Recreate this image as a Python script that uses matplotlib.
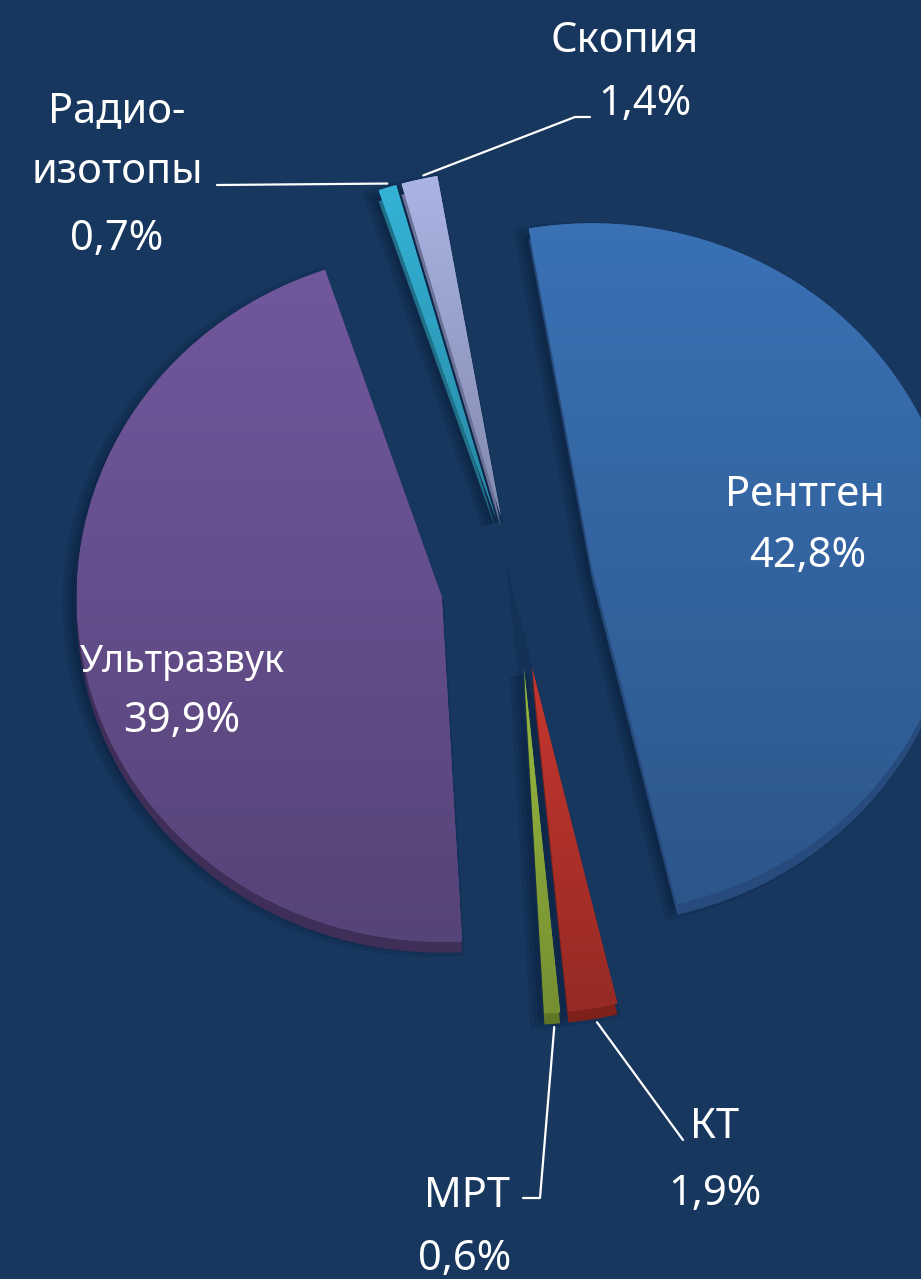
import matplotlib
matplotlib.use('Agg')
import matplotlib.pyplot as plt
import matplotlib.colors as mcolors
import numpy as np

plt.rcParams['font.family'] = ['Noto Sans', 'DejaVu Sans']

# ---- data ----
categories = ['Рентген', 'КТ', 'МРТ', 'Ультразвук', 'Радиоизотопы', 'Скопия']
values = [42.8, 1.9, 0.6, 39.9, 0.7, 1.4]
pct_labels = ['42,8%', '1,9%', '0,6%', '39,9%', '0,7%', '1,4%']

# ---- style ----
BG = '#17375E'
colors = ['#3567A5', '#B3322B', '#8BAA3B', '#67508F', '#2FA2C3', '#9BA4CF']
side_colors = ['#264B7C', '#7E211B', '#5E7626', '#3F2F58', '#1F7088', '#6C7399']
explode = [0.21, 0.25, 0.25, 0.21, 0.20, 0.20]

W, H = 921, 1279
CX, CY = 517, 583      # pie centre (pixels, y down)
RX, RY = 365, 345      # pixel size of one data unit


def P(px, py):
    return ((px - CX) / RX, (CY - py) / RY)


def Pinv(x, y):
    return (CX + x * RX, CY - y * RY)


fig = plt.figure(figsize=(W / 100, H / 100), dpi=100, facecolor=BG)
ax = fig.add_axes([0, 0, 1, 1])
ax.set_facecolor(BG)

start = 100
common = dict(explode=explode, startangle=start, counterclock=False)
# soft dark shadow
for lw, al in ((12, 0.25), (6, 0.35)):
    ax.pie(values, colors=['#0E2545'] * len(values), center=(-6 / RX, -7 / RY),
           wedgeprops=dict(linewidth=lw, edgecolor='#0E2545', alpha=al), **common)
# extruded side
ax.pie(values, colors=side_colors, center=(0, -11 / RY),
       wedgeprops=dict(linewidth=0), **common)
# top faces
wedges, _ = ax.pie(values, colors=colors, wedgeprops=dict(linewidth=0), **common)

# subtle vertical shading on the top faces
for w, c in zip(wedges, colors):
    bb = w.get_path().get_extents()
    rgb = np.array(mcolors.to_rgb(c))
    t = np.linspace(0, 1, 256)[:, None]
    top = np.clip(rgb * 1.10, 0, 1)
    bot = rgb * 0.84
    grad = (top * (1 - t) + bot * t)[:, None, :]
    im = ax.imshow(grad, extent=(bb.x0, bb.x1, bb.y0, bb.y1), origin='upper',
                   aspect='auto', zorder=w.get_zorder() + 0.1, interpolation='bilinear')
    im.set_clip_path(w)

ax.set_aspect('auto')
ax.set_xlim(-CX / RX, (W - CX) / RX)
ax.set_ylim(-(H - CY) / RY, CY / RY)
ax.axis('off')


# outer tip of a wedge (pixel coords)
def tip(w, frac=0.5):
    ang = np.deg2rad(w.theta1 + frac * (w.theta2 - w.theta1))
    x = w.center[0] + w.r * np.cos(ang)
    y = w.center[1] + w.r * np.sin(ang)
    return Pinv(x, y)


# ---- labels ----
def txt(s, px, py, size=30):
    x, y = P(px, py)
    ax.text(x, y, s, color='white', fontsize=size, ha='center', va='baseline', zorder=10)

txt(categories[0], 805, 506)
txt(pct_labels[0], 808, 567)

txt(categories[3], 182, 672, 27)
txt(pct_labels[3], 182, 732)

txt('Радио-', 117, 122)
txt('изотопы', 117, 183)
txt(pct_labels[4], 117, 250)

txt(categories[5], 625, 52)
txt(pct_labels[5], 645, 115)

txt(categories[2], 467, 1207)
txt(pct_labels[2], 465, 1270)

txt(categories[1], 715, 1138)
txt(pct_labels[1], 715, 1205)


# ---- leader lines ----
def line(pts):
    xs, ys = zip(*[P(a, b) for a, b in pts])
    ax.plot(xs, ys, color='white', lw=1.6, solid_capstyle='round', zorder=10)

rx_, ry_ = tip(wedges[4])
line([(217, 185), (rx_, ry_ - 4)])
sx, sy = tip(wedges[5])
line([(sx + 4, sy - 4), (575, 117), (590, 117)])
mx, my = tip(wedges[2])
line([(523, 1198), (540, 1198), (mx + 2, my + 14)])
kx, ky = tip(wedges[1])
line([(kx + 4, ky + 14), (683, 1140)])

fig.savefig('out.png', dpi=100, facecolor=BG)
